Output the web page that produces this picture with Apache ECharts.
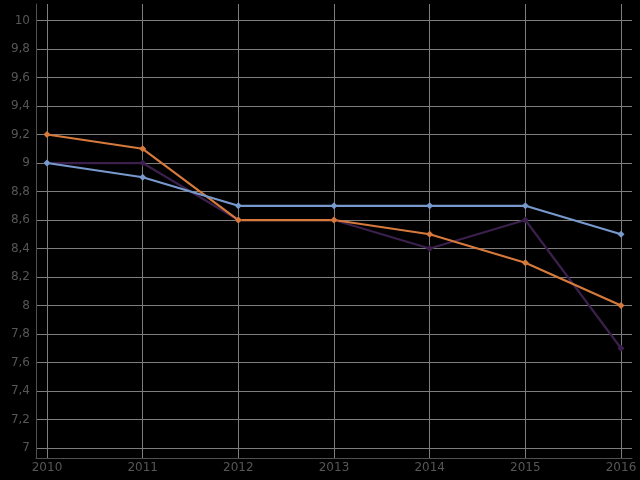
<!DOCTYPE html>
<html>
<head>
<meta charset="utf-8">
<script src="https://cdn.jsdelivr.net/npm/echarts@6/dist/echarts.min.js"></script>
<style>html,body{margin:0;padding:0;background:#000;}#c{width:640px;height:480px;}</style>
</head>
<body>
<div id="c"></div>
<script>
const years = [2010, 2011, 2012, 2013, 2014, 2015, 2016];
const yTicks = [7, 7.2, 7.4, 7.6, 7.8, 8, 8.2, 8.4, 8.6, 8.8, 9, 9.2, 9.4, 9.6, 9.8, 10];
const purpleValues = [9.0, 9.0, 8.6, 8.6, 8.4, 8.6, 7.7];
const orangeValues = [9.2, 9.1, 8.6, 8.6, 8.5, 8.3, 8.0];
const blueValues = [9.0, 8.9, 8.7, 8.7, 8.7, 8.7, 8.5];

const pairs = vals => years.map((y, i) => [y, vals[i]]);
const gridColor = '#7e7e7e';
const axisColor = '#505050';
const labelColor = '#565656';

const chart = echarts.init(document.getElementById('c'));
function mk(name, vals, color) {
  return {
    name, type: 'line', data: pairs(vals),
    symbol: 'diamond', symbolSize: 7,
    lineStyle: { color, width: 2.2 },
    itemStyle: { color },
    animation: false
  };
}
chart.setOption({
  backgroundColor: '#000',
  animation: false,
  grid: { left: 36, right: 8, top: 4, bottom: 22, containLabel: false },
  xAxis: {
    type: 'value', min: 2009.885, max: 2016.115,
    axisLine: { show: true, onZero: false, lineStyle: { color: axisColor, width: 1 } },
    axisTick: { show: false, customValues: years },
    axisLabel: { customValues: years, color: labelColor, fontSize: 12, fontFamily: 'DejaVu Sans', margin: 4, formatter: v => String(v) },
    splitLine: { show: true, lineStyle: { color: gridColor, width: 1 } }
  },
  yAxis: {
    type: 'value', min: 6.93, max: 10.116,
    axisLine: { show: true, onZero: false, lineStyle: { color: axisColor, width: 1 } },
    axisTick: { show: false, customValues: yTicks },
    axisLabel: { customValues: yTicks, color: labelColor, fontSize: 12, fontFamily: 'DejaVu Sans', margin: 6,
      formatter: v => String(Math.round(v * 10) / 10).replace('.', ',') },
    splitLine: { show: true, lineStyle: { color: gridColor, width: 1 } }
  },
  series: [
    mk('purple', purpleValues, '#3b1f4c'),
    mk('orange', orangeValues, '#d67a3c'),
    mk('blue', blueValues, '#7799cc')
  ]
});
</script>
</body>
</html>
